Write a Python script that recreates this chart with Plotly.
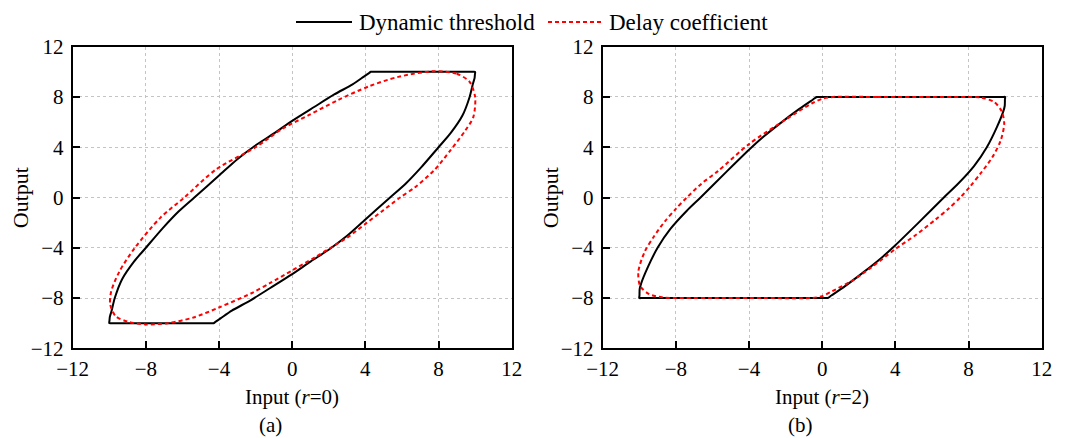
import plotly.graph_objects as go

# ---------------- data ----------------
tick_vals = [-12, -8, -4, 0, 4, 8, 12]
series_names = ["Dynamic threshold", "Delay coefficient"]
panel_labels = ["(a)", "(b)"]
x_titles = ["Input (<i>r</i>=0)", "Input (<i>r</i>=2)"]
y_title = "Output"

# Panel (a), r = 0 : dynamic threshold (solid black loop)
a_dyn_x = [-10.0, -9.99, -9.97, -9.88, -9.7, -9.3, -8.65, -8.0, -7.05, -6.2, -5.35, -4.0, -3.0, -2.05, -1.0,
           0.0, 1.2, 2.3, 3.3, 3.9, 4.2, 4.3, 4.45, 9.85, 10.0, 9.99, 9.97, 9.88, 9.7, 9.3, 8.65, 8.0, 7.05,
           6.2, 5.35, 4.0, 3.0, 2.05, 1.0, 0.0, -1.2, -2.3, -3.3, -3.9, -4.2, -4.3, -4.45, -9.85, -10.0]
a_dyn_y = [-10.0, -9.8, -9.5, -9.05, -8.0, -6.5, -5.1, -4.0, -2.4, -1.1, 0.0, 1.75, 3.05, 4.1, 5.1,
           6.1, 7.2, 8.2, 9.0, 9.6, 9.9, 10.0, 10.0, 10.0, 10.0, 9.8, 9.5, 9.05, 8.0, 6.5, 5.1, 4.0, 2.4,
           1.1, 0.0, -1.75, -3.05, -4.1, -5.1, -6.1, -7.2, -8.2, -9.0, -9.6, -9.9, -10.0, -10.0, -10.0, -10.0]

# Panel (a), r = 0 : delay coefficient (dashed red loop)
a_del_x = [7.8, 9.0, 9.7, 10.0, 9.9, 9.45, 8.65, 7.75, 6.7, 5.9, 4.95, 4.0, 3.0, 2.1, 1.2, 0.0, -1.2,
           -2.2, -4.0, -5.4, -6.8, -8.0, -8.95, -9.65, -9.95, -9.9, -9.45, -8.6, -7.2, -5.9, -4.15,
           -2.0, -0.5, 0.9, 2.5, 4.2, 5.8, 7.8]
a_del_y = [10.05, 9.85, 9.2, 8.0, 6.4, 5.3, 3.75, 2.15, 0.8, 0.0, -1.05, -2.1, -3.2, -4.0, -4.8, -5.8,
           -6.8, -7.6, -8.75, -9.55, -10.0, -10.1, -9.9, -9.45, -8.5, -7.5, -5.9, -4.0, -1.6, 0.0,
           2.25, 4.0, 5.5, 6.55, 7.75, 8.85, 9.6, 10.05]

# Panel (b), r = 2 : dynamic threshold
b_dyn_x = [-10.0, -9.99, -9.98, -9.9, -9.55, -9.0, -8.3, -7.4, -6.65, -5.2, -4.0, -3.2, -2.3, -1.25, -0.5,
           -0.3, -0.15, 9.85, 10.0, 9.99, 9.98, 9.9, 9.55, 9.0, 8.3, 7.4, 6.65, 5.2, 4.0, 3.2, 2.3, 1.25,
           0.5, 0.3, 0.15, -9.85, -10.0]
b_dyn_y = [-8.0, -7.8, -7.3, -6.85, -5.6, -4.0, -2.5, -1.05, 0.0, 2.1, 3.8, 4.85, 5.9, 7.05, 7.8,
           8.0, 8.0, 8.0, 8.0, 7.8, 7.3, 6.85, 5.6, 4.0, 2.5, 1.05, 0.0, -2.1, -3.8, -4.85, -5.9, -7.05,
           -7.8, -8.0, -8.0, -8.0, -8.0]

# Panel (b), r = 2 : delay coefficient
b_del_x = [0.6, 3.0, 6.0, 8.0, 8.7, 9.4, 9.8, 9.95, 9.75, 9.3, 8.65, 8.1, 7.55, 6.9, 6.2, 5.1, 4.0,
           2.65, 1.6, 0.55, 0.0, -0.6, -3.0, -6.0, -8.0, -8.7, -9.45, -9.95, -10.05, -9.7, -9.2, -8.6,
           -8.0, -7.4, -6.6, -5.7, -4.0, -2.0, -0.55, 0.0, 0.6]
b_del_y = [8.0, 8.0, 8.0, 8.0, 7.95, 7.6, 6.9, 5.9, 4.5, 3.2, 1.9, 0.9, 0.0, -0.9, -1.75, -3.0, -4.1,
           -5.6, -6.65, -7.45, -7.85, -8.0, -8.0, -8.0, -8.0, -7.95, -7.7, -7.05, -5.9, -4.3, -3.1, -1.9,
           -0.9, 0.0, 1.1, 2.1, 4.25, 6.2, 7.5, 7.85, 8.0]

# ---------------- styling ----------------
FONT = "Palatino Linotype, Book Antiqua, Palatino, Liberation Serif, serif"
BLACK = "#000000"
RED = "#ff0000"
W, H = 1070, 438

fig = go.Figure()

panels = [
    ("x", "y", a_dyn_x, a_dyn_y, a_del_x, a_del_y),
    ("x2", "y2", b_dyn_x, b_dyn_y, b_del_x, b_del_y),
]
for xa, ya, dx, dy, rx, ry in panels:
    fig.add_trace(go.Scatter(x=dx, y=dy, xaxis=xa, yaxis=ya, mode="lines", name=series_names[0],
                             line=dict(color=BLACK, width=2, shape="spline", smoothing=0.7),
                             showlegend=False))
    fig.add_trace(go.Scatter(x=rx, y=ry, xaxis=xa, yaxis=ya, mode="lines", name=series_names[1],
                             line=dict(color=RED, width=2, dash="4px,3px", shape="spline", smoothing=0.8),
                             showlegend=False))

axis_common = dict(
    range=[-12, 12], tickvals=tick_vals, ticks="inside", ticklen=7, tickwidth=2, tickcolor=BLACK,
    showline=True, linewidth=2, linecolor=BLACK, mirror=True,
    showgrid=True, gridcolor="#c4c4c4", gridwidth=1, griddash="3px,3px", zeroline=False,
    tickfont=dict(family=FONT, size=21, color=BLACK), automargin=False, fixedrange=True,
)

x_doms = [[72.7 / W, 511.7 / W], [602.7 / W, 1041.7 / W]]
y_dom = [1 - 348.3 / H, 1 - 46.7 / H]

fig.update_layout(
    width=W, height=H, margin=dict(l=0, r=0, t=0, b=0),
    paper_bgcolor="white", plot_bgcolor="white", showlegend=False,
    font=dict(family=FONT, size=20, color=BLACK),
    xaxis=dict(domain=x_doms[0], anchor="y", **axis_common),
    yaxis=dict(domain=y_dom, anchor="x", ticklabelstandoff=3, **axis_common),
    xaxis2=dict(domain=x_doms[1], anchor="y2", **axis_common),
    yaxis2=dict(domain=y_dom, anchor="x2", ticklabelstandoff=3, **axis_common),
)

ann = []
shapes = []
for i in range(2):
    cx = (x_doms[i][0] + x_doms[i][1]) / 2
    ann.append(dict(text=x_titles[i], x=cx, y=1 - 397 / H, xref="paper", yref="paper",
                    showarrow=False, xanchor="center", yanchor="middle",
                    font=dict(family=FONT, size=21, color=BLACK)))
    ann.append(dict(text=panel_labels[i], x=cx - 22 / W, y=1 - 425 / H, xref="paper", yref="paper",
                    showarrow=False, xanchor="center", yanchor="middle",
                    font=dict(family=FONT, size=21, color=BLACK)))
    ann.append(dict(text=y_title, x=x_doms[i][0] - 52 / W, y=(y_dom[0] + y_dom[1]) / 2,
                    xref="paper", yref="paper", showarrow=False, textangle=-90,
                    xanchor="center", yanchor="middle",
                    font=dict(family=FONT, size=22, color=BLACK)))

# legend drawn at the top centre
leg_y = 1 - 22 / H
shapes.append(dict(type="line", xref="paper", yref="paper", x0=296 / W, x1=352 / W, y0=leg_y, y1=leg_y,
                   line=dict(color=BLACK, width=2)))
ann.append(dict(text=series_names[0], x=357 / W, y=leg_y, xref="paper", yref="paper", showarrow=False,
                xanchor="left", yanchor="middle", font=dict(family=FONT, size=23, color=BLACK)))
shapes.append(dict(type="line", xref="paper", yref="paper", x0=548 / W, x1=602 / W, y0=leg_y, y1=leg_y,
                   line=dict(color=RED, width=2, dash="4px,3px")))
ann.append(dict(text=series_names[1], x=607 / W, y=leg_y, xref="paper", yref="paper", showarrow=False,
                xanchor="left", yanchor="middle", font=dict(family=FONT, size=23, color=BLACK)))

fig.update_layout(annotations=ann, shapes=shapes)
fig.write_html("out.html", config={"displayModeBar": False})
